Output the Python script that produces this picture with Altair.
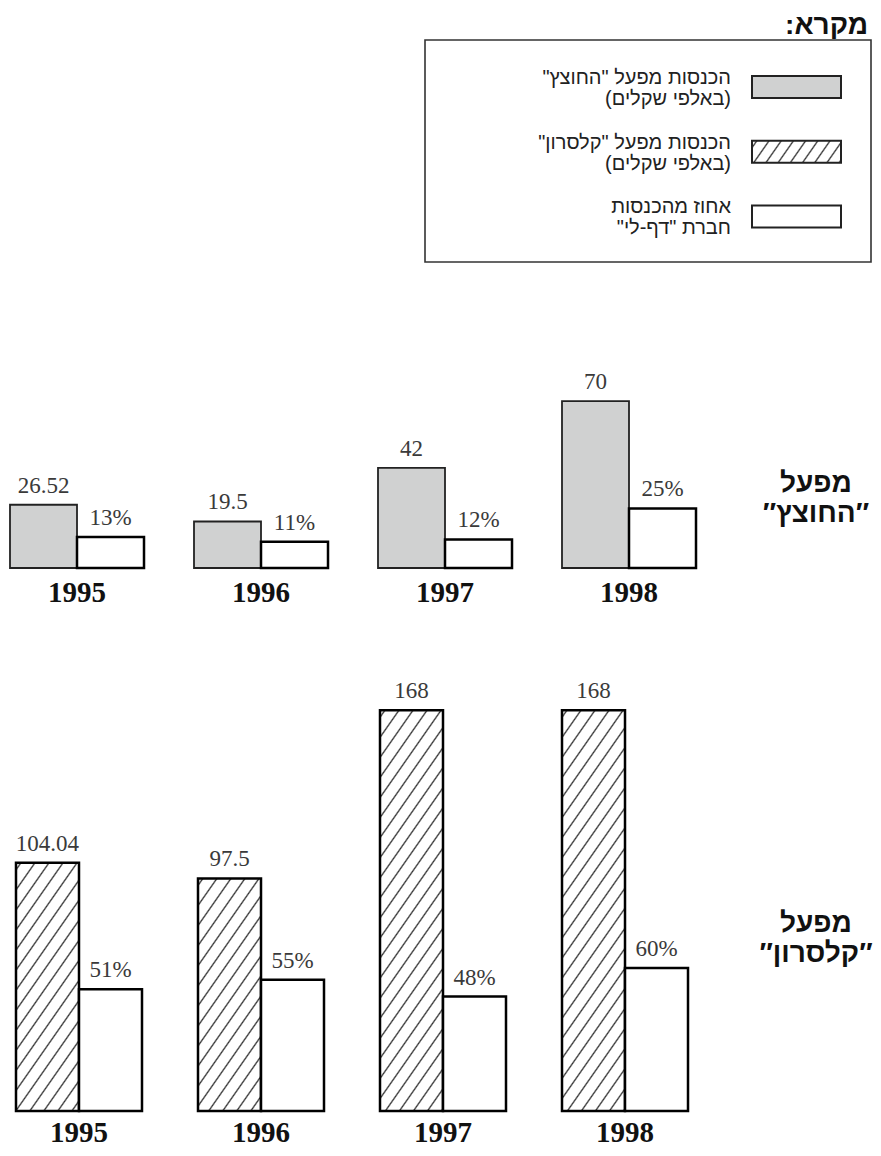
import math
import altair as alt
import pandas as pd

# ---------------- data ----------------
years = [1995, 1996, 1997, 1998]
hotzets_income = [26.52, 19.5, 42, 70]      # thousands of shekels
hotzets_pct = [13, 11, 12, 25]              # percent of "Daf-Li" income
kalseron_income = [104.04, 97.5, 168, 168]  # thousands of shekels
kalseron_pct = [51, 55, 48, 60]

legend_title = "מקרא:"
legend_line1 = ['הכנסות מפעל "החוצץ"', 'הכנסות מפעל "קלסרון"', "אחוז מהכנסות"]
legend_line2 = ["(באלפי שקלים)", "(באלפי שקלים)", 'חברת "דף-לי"']
panel_line1 = ["מפעל", "מפעל"]
panel_line2 = ["″החוצץ″", "″קלסרון″"]

RLM = "\u200f"


def rtl(s):
    return RLM + s + RLM


# ---------------- layout constants ----------------
PX = 2.385          # pixels per unit (common to both panels)
W = 865
H0, H1, H2 = 292, 268, 543
GRAY = "#d0d1d1"
INK = "#222222"
SERIF = "Liberation Serif"
SANS = "Liberation Sans"


def hatch(w, h, spacing=11.5, lw=1.3, a=1.0, b=1.43, ink="#333333", bg="#ffffff"):
    gx, gy = b / h, a / w
    c = (gx + gy) / (gx * gx + gy * gy)
    x2, y2 = c * gx, c * gy
    D = (w * b + h * a) / math.hypot(a, b)
    half = lw / D
    stops = [alt.GradientStop(offset=0, color=bg)]
    k = 0
    last = 0.0
    while True:
        t = (k * spacing + 4) / D
        if t - half >= 1:
            break
        for off, col in ((t - half, bg), (t, ink), (t + half, bg)):
            off = min(max(off, last), 1.0)
            last = off
            stops.append(alt.GradientStop(offset=round(off, 5), color=col))
        k += 1
    stops.append(alt.GradientStop(offset=1, color=bg))
    return alt.LinearGradient(gradient="linear", stops=stops,
                              x1=0, y1=0, x2=round(x2, 5), y2=round(y2, 5))


def panel_df(income, pct):
    rows = []
    for y, v in zip(years, income):
        rows.append(dict(year=y, series="inc", value=v, label=f"{v:g}"))
    for y, v in zip(years, pct):
        rows.append(dict(year=y, series="pct", value=v, label=f"{v:g}%"))
    return pd.DataFrame(rows)


xoff = alt.XOffset("series:N", scale=alt.Scale(domain=["inc", "pct"],
                                                paddingInner=0, paddingOuter=0))


def panel(df, H, xscale, inc_layers, l1, l2, lab_y1, lab_y2, year_off):
    base = alt.Chart(df).encode(
        x=alt.X("year:O", scale=xscale, axis=None),
        xOffset=xoff,
        y=alt.Y("value:Q", scale=alt.Scale(domain=[0, H / PX], nice=False, zero=True), axis=None),
    )
    pct_bars = base.transform_filter(alt.datum.series == "pct").mark_bar(
        fill="white", stroke="black", strokeWidth=2.5)
    labels = base.mark_text(font=SERIF, fontSize=23, dy=-12, baseline="alphabetic",
                            color="#3a3a3a").encode(text="label:N")
    ydf = pd.DataFrame({"year": years, "ylab": [str(y) for y in years]})
    ylabels = alt.Chart(ydf).mark_text(font=SERIF, fontSize=29, fontWeight="bold",
                                       baseline="alphabetic", color="#111").encode(
        x=alt.X("year:O", scale=xscale, axis=None),
        y=alt.value(H + year_off),
        text="ylab:N",
    )
    tdf = pd.DataFrame({"t1": [rtl(l1)], "t2": [rtl(l2)]})
    t1 = alt.Chart(tdf).mark_text(font=SANS, fontSize=28, fontWeight="bold",
                                  baseline="alphabetic", align="center", color="#111").encode(
        x=alt.value(808), y=alt.value(lab_y1), text="t1:N")
    t2 = alt.Chart(tdf).mark_text(font=SANS, fontSize=28, fontWeight="bold",
                                  baseline="alphabetic", align="center", color="#111").encode(
        x=alt.value(808), y=alt.value(lab_y2), text="t2:N")
    layers = inc_layers(base) + [pct_bars, labels, ylabels, t1, t2]
    return alt.layer(*layers).properties(width=W, height=H)


# ---- top panel ----
top_df = panel_df(hotzets_income, hotzets_pct)
top_x = alt.Scale(paddingInner=0.2717, paddingOuter=0.4864, align=0.01117, round=False)


def top_inc(base):
    return [base.transform_filter(alt.datum.series == "inc").mark_bar(
        fill=GRAY, stroke=INK, strokeWidth=1.8)]


top = panel(top_df, H1, top_x, top_inc, panel_line1[0], panel_line2[0], 192, 222, 34)

# ---- bottom panel ----
bot_df = panel_df(kalseron_income, kalseron_pct)
bot_x = alt.Scale(paddingInner=0.3077, paddingOuter=0.5302, align=0.04145, round=False)


def bot_inc(base):
    out = []
    for y, v in zip(years, kalseron_income):
        out.append(base.transform_filter(
            (alt.datum.series == "inc") & (alt.datum.year == y)).mark_bar(
            fill=hatch(63, v * PX), stroke="black", strokeWidth=2.5))
    return out


bottom = panel(bot_df, H2, bot_x, bot_inc, panel_line1[1], panel_line2[1], 364, 394, 31)

# ---- legend ----
leg_df = pd.DataFrame({
    "idx": [0, 1, 2],
    "l1": [rtl(s) for s in legend_line1],
    "l2": [rtl(s) for s in legend_line2],
})
ly = alt.Y("idx:O", scale=alt.Scale(paddingInner=0, paddingOuter=0.7548, align=0.4767, round=False),
           axis=None)
lbase = alt.Chart(leg_df).encode(y=ly)
sw_x = dict(x=alt.value(744), x2=alt.value(833))
sw_gray = lbase.transform_filter(alt.datum.idx == 0).mark_bar(
    height=22, fill=GRAY, stroke=INK, strokeWidth=2).encode(**sw_x)
sw_hatch = lbase.transform_filter(alt.datum.idx == 1).mark_bar(
    height=22, fill=hatch(89, 22, spacing=10), stroke=INK, strokeWidth=2).encode(**sw_x)
sw_white = lbase.transform_filter(alt.datum.idx == 2).mark_bar(
    height=22, fill="white", stroke=INK, strokeWidth=2).encode(**sw_x)
txt1 = lbase.mark_text(font=SANS, fontSize=20, align="right", baseline="alphabetic",
                       dy=-3, color="#222").encode(x=alt.value(723), text="l1:N")
txt2 = lbase.mark_text(font=SANS, fontSize=20, align="right", baseline="alphabetic",
                       dy=18, color="#222").encode(x=alt.value(723), text="l2:N")
tt_df = pd.DataFrame({"t": [rtl(legend_title)]})
title = alt.Chart(tt_df).mark_text(font=SANS, fontSize=28, fontWeight="bold", align="right",
                                   baseline="alphabetic", color="#111").encode(
    x=alt.value(860), y=alt.value(26), text="t:N")
box = alt.Chart(tt_df).mark_rect(fill="white", fillOpacity=0, stroke="#333", strokeWidth=1.6).encode(
    x=alt.value(417), x2=alt.value(863), y=alt.value(32), y2=alt.value(254))
legend = alt.layer(box, title, sw_gray, sw_hatch, sw_white, txt1, txt2).properties(width=W, height=H0)

chart = alt.vconcat(legend, top, bottom, spacing=0, bounds="flush").resolve_scale(
    xOffset="independent"
).properties(
    padding=0, background="white"
).configure_view(stroke=None)

chart.save("out.html", embed_options={"renderer": "svg", "actions": False})
